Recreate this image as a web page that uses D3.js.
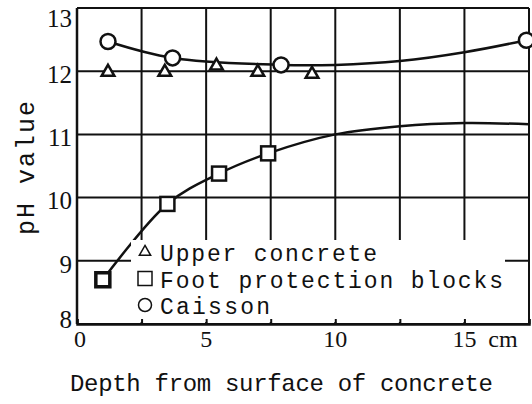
<!DOCTYPE html>
<html>
<head>
<meta charset="utf-8">
<script src="https://cdn.jsdelivr.net/npm/d3@7"></script>
<style>
  body { margin: 0; background: #fff; }
  text { font-family: "Liberation Serif", "DejaVu Serif", serif; fill: #111; }
  .mono { font-family: "Liberation Mono", "DejaVu Sans Mono", monospace; }
</style>
</head>
<body>
<svg id="chart" width="532" height="404"></svg>
<script>
// measured points
var upperDepth = [1.2, 3.4, 5.4, 7.0, 9.1],
    upperPH    = [12.0, 12.0, 12.1, 12.0, 11.97];
var footDepth  = [1.0, 3.5, 5.5, 7.4],
    footPH     = [8.7, 9.9, 10.38, 10.7];
var caisDepth  = [1.2, 3.7, 7.9, 17.4],
    caisPH     = [12.47, 12.21, 12.1, 12.49];

// fitted curves as drawn in the figure
var footCurveDepth = [1.0, 3.5, 5.5, 7.4, 10, 12.5, 15, 17.5],
    footCurvePH    = [8.7, 9.9, 10.38, 10.7, 11.0, 11.13, 11.18, 11.16];
var caisCurveDepth = [1.2, 3.7, 7.9, 10, 12.5, 15, 17.4],
    caisCurvePH    = [12.47, 12.21, 12.1, 12.1, 12.16, 12.3, 12.49];

var xTicks = [0, 2.5, 5, 7.5, 10, 12.5, 15, 17.5],
    xLabels = [0, 5, 10, 15],
    yTicks = [8, 9, 10, 11, 12, 13];

var legendNames = ["Upper concrete", "Foot protection blocks", "Caisson"];

var svg = d3.select("#chart");

var x = d3.scaleLinear().domain([0, 17.5]).range([77, 529]),
    y = d3.scaleLinear().domain([8, 13]).range([324, 8]);

var ink = "#111";

// grid
svg.append("g").selectAll("line")
   .data(yTicks)
   .enter().append("line")
   .attr("x1", x(0)).attr("x2", x(17.5))
   .attr("y1", function(d) { return y(d); })
   .attr("y2", function(d) { return y(d); })
   .attr("stroke", ink).attr("stroke-width", 2);

svg.append("g").selectAll("line")
   .data(xTicks)
   .enter().append("line")
   .attr("x1", function(d) { return x(d); })
   .attr("x2", function(d) { return x(d); })
   .attr("y1", y(13)).attr("y2", y(8))
   .attr("stroke", ink).attr("stroke-width", 2);

// curves
var line = d3.line()
    .x(function(d) { return x(d[0]); })
    .y(function(d) { return y(d[1]); })
    .curve(d3.curveCatmullRom);

svg.append("path")
   .datum(d3.zip(footCurveDepth, footCurvePH))
   .attr("d", line)
   .attr("fill", "none").attr("stroke", ink).attr("stroke-width", 2.5);

svg.append("path")
   .datum(d3.zip(caisCurveDepth, caisCurvePH))
   .attr("d", line)
   .attr("fill", "none").attr("stroke", ink).attr("stroke-width", 2.5);

// legend box (hides grid underneath)
svg.append("rect")
   .attr("x", 131).attr("y", 240)
   .attr("width", 374).attr("height", 82)
   .attr("fill", "#fff");

// bottom stubs over the legend
svg.append("g")
   .attr("transform", "translate(0," + y(8) + ")")
   .call(d3.axisBottom(x).tickValues(xTicks).tickSize(-5).tickFormat(""))
   .call(function(g) {
       g.select(".domain").attr("stroke", ink).attr("stroke-width", 2.5);
       g.selectAll(".tick line").attr("stroke", ink).attr("stroke-width", 2);
   });

// left axis
svg.append("line")
   .attr("x1", x(0)).attr("x2", x(0))
   .attr("y1", y(13)).attr("y2", y(8))
   .attr("stroke", ink).attr("stroke-width", 2.5);

// markers
var tri = d3.symbol().type(d3.symbolTriangle).size(70);
svg.append("g").selectAll("path")
   .data(d3.zip(upperDepth, upperPH))
   .enter().append("path")
   .attr("d", tri)
   .attr("transform", function(d) { return "translate(" + x(d[0]) + "," + (y(d[1]) + 1) + ")"; })
   .attr("fill", "#fff").attr("stroke", ink).attr("stroke-width", 2.5);

svg.append("g").selectAll("rect")
   .data(d3.zip(footDepth, footPH))
   .enter().append("rect")
   .attr("x", function(d) { return x(d[0]) - 7; })
   .attr("y", function(d) { return y(d[1]) - 7; })
   .attr("width", 14).attr("height", 14)
   .attr("fill", "#fff").attr("stroke", ink)
   .attr("stroke-width", function(d, i) { return i === 0 ? 3.5 : 2.5; });

svg.append("g").selectAll("circle")
   .data(d3.zip(caisDepth, caisPH))
   .enter().append("circle")
   .attr("cx", function(d) { return x(d[0]); })
   .attr("cy", function(d) { return y(d[1]); })
   .attr("r", 7.5)
   .attr("fill", "#fff").attr("stroke", ink).attr("stroke-width", 2.5);

// y tick labels
svg.append("g").selectAll("text")
   .data(yTicks)
   .enter().append("text")
   .attr("x", 72)
   .attr("y", function(d) {
       var off = d === 13 ? 10 : (d === 8 ? -5 : 3);
       return y(d) + off;
   })
   .attr("dy", "0.35em")
   .attr("text-anchor", "end")
   .attr("font-size", "25px")
   .text(function(d) { return d; });

// x tick labels
svg.append("g").selectAll("text")
   .data(xLabels)
   .enter().append("text")
   .attr("x", function(d) { return x(d) + (d === 0 ? 3 : 0); })
   .attr("y", 347)
   .attr("text-anchor", "middle")
   .attr("font-size", "24px")
   .text(function(d) { return d; });

svg.append("text")
   .attr("x", 503).attr("y", 347)
   .attr("text-anchor", "middle")
   .attr("font-size", "24px")
   .text("cm");

// axis titles
svg.append("text")
   .attr("class", "mono")
   .attr("x", 70).attr("y", 391)
   .attr("font-size", "24px")
   .attr("textLength", 423).attr("lengthAdjust", "spacing")
   .text("Depth from surface of concrete");

svg.append("text")
   .attr("class", "mono")
   .attr("transform", "translate(34,235) rotate(-90)")
   .attr("font-size", "25px")
   .attr("textLength", 134).attr("lengthAdjust", "spacing")
   .text("pH value");

// legend
var legend = svg.append("g");
var rows = legend.selectAll("g")
   .data(legendNames)
   .enter().append("g")
   .attr("transform", function(d, i) { return "translate(145," + (252 + i * 26.5) + ")"; });

rows.each(function(d, i) {
    var g = d3.select(this);
    if (i === 0) {
        g.append("path").attr("d", d3.symbol().type(d3.symbolTriangle).size(55))
         .attr("fill", "none").attr("stroke", ink).attr("stroke-width", 1.5);
    } else if (i === 1) {
        g.append("rect").attr("x", -7).attr("y", -7).attr("width", 14).attr("height", 14)
         .attr("fill", "none").attr("stroke", ink).attr("stroke-width", 1.5);
    } else {
        g.append("circle").attr("r", 6.5)
         .attr("fill", "none").attr("stroke", ink).attr("stroke-width", 1.5);
    }
});

var textLens = [217, 343, 110];
rows.append("text")
   .attr("class", "mono")
   .attr("x", 15).attr("y", 9)
   .attr("font-size", "23px")
   .attr("textLength", function(d, i) { return textLens[i]; })
   .attr("lengthAdjust", "spacing")
   .text(function(d) { return d; });
</script>
</body>
</html>
